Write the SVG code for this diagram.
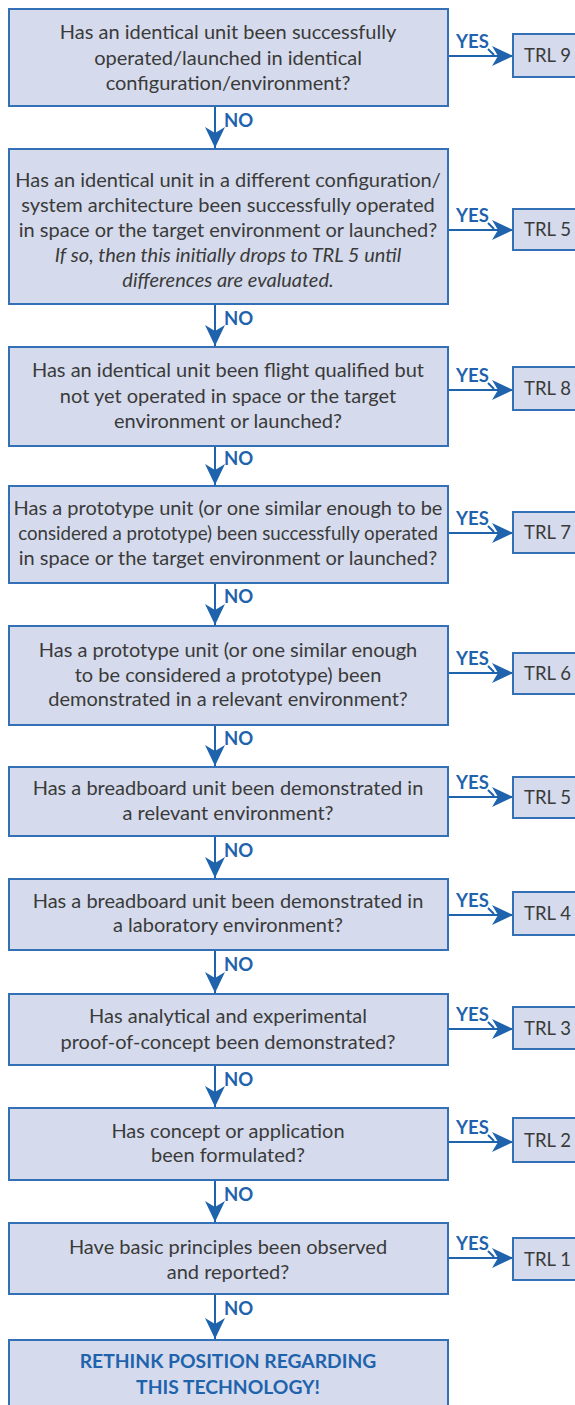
<svg xmlns="http://www.w3.org/2000/svg" width="575" height="1405" viewBox="0 0 575 1405">
<defs>
<style>
.box{fill:#d5dbec;stroke:#3470b5;stroke-width:2}
.q{font-family:Lato,"Open Sans","Liberation Sans",sans-serif;font-size:20px;fill:#3a3a3a;text-anchor:middle}
.qi{font-style:italic}
.tight{font-size:18.7px}
.trl{font-family:Lato,"Open Sans","Liberation Sans",sans-serif;font-size:18.5px;fill:#3a3a3a}
.lbl{font-family:Lato,"Open Sans","Liberation Sans",sans-serif;font-size:18.5px;font-weight:bold;fill:#1f63ad}
.con{stroke:#1f63ad;stroke-width:2;fill:none}
.rt{font-family:Lato,"Open Sans","Liberation Sans",sans-serif;font-size:19.3px;font-weight:bold;fill:#1f63ad;text-anchor:middle}
</style>
<marker id="ah" markerUnits="userSpaceOnUse" markerWidth="24" markerHeight="24" viewBox="-22 -12 24 24" refX="0" refY="0" orient="auto">
<path d="M0,0 L-21,-10 L-15,0 L-21,10 Z" fill="#1f63ad"/>
</marker>
</defs>
<rect width="575" height="1405" fill="#ffffff"/>

<g id="connectors">
<line class="con" x1="215" y1="107" x2="215" y2="148" marker-end="url(#ah)"/>
<line class="con" x1="215" y1="305" x2="215" y2="346" marker-end="url(#ah)"/>
<line class="con" x1="215" y1="447" x2="215" y2="485" marker-end="url(#ah)"/>
<line class="con" x1="215" y1="584" x2="215" y2="625" marker-end="url(#ah)"/>
<line class="con" x1="215" y1="726" x2="215" y2="766" marker-end="url(#ah)"/>
<line class="con" x1="215" y1="837" x2="215" y2="878" marker-end="url(#ah)"/>
<line class="con" x1="215" y1="951" x2="215" y2="993" marker-end="url(#ah)"/>
<line class="con" x1="215" y1="1066" x2="215" y2="1107" marker-end="url(#ah)"/>
<line class="con" x1="215" y1="1181" x2="215" y2="1222" marker-end="url(#ah)"/>
<line class="con" x1="215" y1="1295" x2="215" y2="1339" marker-end="url(#ah)"/>
<text class="lbl" x="224" y="127">NO</text>
<text class="lbl" x="224" y="325">NO</text>
<text class="lbl" x="224" y="465">NO</text>
<text class="lbl" x="224" y="603">NO</text>
<text class="lbl" x="224" y="745">NO</text>
<text class="lbl" x="224" y="857">NO</text>
<text class="lbl" x="224" y="971">NO</text>
<text class="lbl" x="224" y="1086">NO</text>
<text class="lbl" x="224" y="1201">NO</text>
<text class="lbl" x="224" y="1315">NO</text>
<line class="con" x1="449" y1="56" x2="513" y2="56" marker-end="url(#ah)"/>
<line class="con" x1="449" y1="230" x2="513" y2="230" marker-end="url(#ah)"/>
<line class="con" x1="449" y1="390" x2="513" y2="390" marker-end="url(#ah)"/>
<line class="con" x1="449" y1="533" x2="513" y2="533" marker-end="url(#ah)"/>
<line class="con" x1="449" y1="673" x2="513" y2="673" marker-end="url(#ah)"/>
<line class="con" x1="449" y1="797" x2="513" y2="797" marker-end="url(#ah)"/>
<line class="con" x1="449" y1="915" x2="513" y2="915" marker-end="url(#ah)"/>
<line class="con" x1="449" y1="1029" x2="513" y2="1029" marker-end="url(#ah)"/>
<line class="con" x1="449" y1="1142" x2="513" y2="1142" marker-end="url(#ah)"/>
<line class="con" x1="449" y1="1258" x2="513" y2="1258" marker-end="url(#ah)"/>
<path class="con" stroke-width="1.6" d="M488,49 L494,55 M488,223 L494,229 M488,383 L494,389 M488,526 L494,532 M488,666 L494,672 M488,790 L494,796 M488,908 L494,914 M488,1022 L494,1028 M488,1135 L494,1141 M488,1251 L494,1257"/>
<text class="lbl" x="456" y="48">YES</text>
<text class="lbl" x="456" y="222">YES</text>
<text class="lbl" x="456" y="382">YES</text>
<text class="lbl" x="456" y="525">YES</text>
<text class="lbl" x="456" y="665">YES</text>
<text class="lbl" x="456" y="789">YES</text>
<text class="lbl" x="456" y="907">YES</text>
<text class="lbl" x="456" y="1021">YES</text>
<text class="lbl" x="456" y="1134">YES</text>
<text class="lbl" x="456" y="1250">YES</text>
</g>

<g id="q1"><rect class="box" x="9" y="9" width="439" height="97"/>
<text class="q"><tspan x="228" y="39">Has an identical unit been successfully</tspan><tspan x="228" y="65">operated/launched in identical</tspan><tspan x="228" y="90">configuration/environment?</tspan></text></g>

<g id="q2"><rect class="box" x="9" y="149" width="439" height="155"/>
<text class="q"><tspan x="228" y="187">Has an identical unit  in a different configuration/</tspan><tspan x="228" y="212">system architecture been successfully operated</tspan><tspan x="228" y="237">in space or the target environment or launched?</tspan><tspan class="qi" x="228" y="262">If so, then this initially drops to TRL 5 until</tspan><tspan class="qi" x="228" y="287">differences are evaluated.</tspan></text></g>

<g id="q3"><rect class="box" x="9" y="347" width="439" height="99"/>
<text class="q"><tspan x="228" y="377">Has an identical unit been flight qualified but</tspan><tspan x="228" y="403">not yet operated in space or the target</tspan><tspan x="228" y="428">environment or launched?</tspan></text></g>

<g id="q4"><rect class="box" x="9" y="486" width="439" height="97"/>
<text class="q"><tspan x="228" y="515">Has a prototype unit (or one similar enough to be</tspan><tspan class="tight" x="228" y="540">considered a prototype) been successfully operated</tspan><tspan x="228" y="565">in space or the target environment or launched?</tspan></text></g>

<g id="q5"><rect class="box" x="9" y="626" width="439" height="99"/>
<text class="q"><tspan x="228" y="657">Has a prototype unit (or one similar enough</tspan><tspan x="228" y="682">to be considered a prototype) been</tspan><tspan x="228" y="706">demonstrated in a relevant environment?</tspan></text></g>

<g id="q6"><rect class="box" x="9" y="767" width="439" height="69"/>
<text class="q"><tspan x="228" y="795">Has a breadboard unit been demonstrated in</tspan><tspan x="228" y="820">a relevant environment?</tspan></text></g>

<g id="q7"><rect class="box" x="9" y="879" width="439" height="71"/>
<text class="q"><tspan x="228" y="908">Has a breadboard unit been demonstrated in</tspan><tspan x="228" y="932">a laboratory environment?</tspan></text></g>

<g id="q8"><rect class="box" x="9" y="994" width="439" height="71"/>
<text class="q"><tspan x="228" y="1023">Has analytical and experimental</tspan><tspan x="228" y="1049">proof-of-concept been demonstrated?</tspan></text></g>

<g id="q9"><rect class="box" x="9" y="1108" width="439" height="72"/>
<text class="q"><tspan x="228" y="1138">Has concept or application</tspan><tspan x="228" y="1162">been formulated?</tspan></text></g>

<g id="q10"><rect class="box" x="9" y="1223" width="439" height="71"/>
<text class="q"><tspan x="228" y="1254">Have basic principles been observed</tspan><tspan x="228" y="1279">and reported?</tspan></text></g>

<g id="rethink"><rect class="box" x="9" y="1340" width="439" height="75"/>
<text class="rt"><tspan x="228" y="1368">RETHINK POSITION REGARDING</tspan><tspan x="228" y="1394">THIS TECHNOLOGY!</tspan></text></g>

<g id="trl9"><rect class="box" x="513" y="34" width="70" height="43"/><text class="trl" x="524" y="62">TRL 9</text></g>
<g id="trl5a"><rect class="box" x="513" y="209" width="70" height="41"/><text class="trl" x="524" y="236">TRL 5</text></g>
<g id="trl8"><rect class="box" x="513" y="367" width="70" height="43"/><text class="trl" x="524" y="395">TRL 8</text></g>
<g id="trl7"><rect class="box" x="513" y="512" width="70" height="41"/><text class="trl" x="524" y="539">TRL 7</text></g>
<g id="trl6"><rect class="box" x="513" y="653" width="70" height="41"/><text class="trl" x="524" y="680">TRL 6</text></g>
<g id="trl5b"><rect class="box" x="513" y="777" width="70" height="41"/><text class="trl" x="524" y="804">TRL 5</text></g>
<g id="trl4"><rect class="box" x="513" y="892" width="70" height="43"/><text class="trl" x="524" y="920">TRL 4</text></g>
<g id="trl3"><rect class="box" x="513" y="1007" width="70" height="42"/><text class="trl" x="524" y="1035">TRL 3</text></g>
<g id="trl2"><rect class="box" x="513" y="1118" width="70" height="44"/><text class="trl" x="524" y="1147">TRL 2</text></g>
<g id="trl1"><rect class="box" x="513" y="1238" width="70" height="42"/><text class="trl" x="524" y="1266">TRL 1</text></g>
</svg>
